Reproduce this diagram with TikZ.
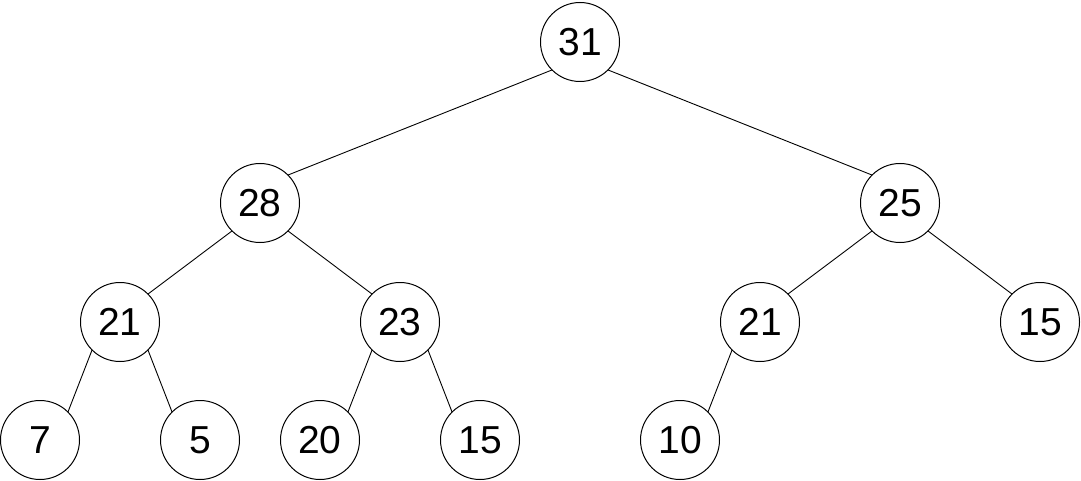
\documentclass[tikz,border=0pt]{standalone}
\usepackage{fontspec}
\setmainfont{Liberation Sans}
\begin{document}
\begin{tikzpicture}[x=1pt,y=-1pt,
  tn/.style={circle,draw,line width=1pt,minimum size=79pt,inner sep=0pt,outer sep=0pt,font=\fontsize{39}{42}\selectfont},
  edge/.style={line width=0.9pt}]
\useasboundingbox (0,0) rectangle (1081,481);
\node[tn] (n31) at (580,42) {31};
\node[tn] (n28) at (260,203) {28};
\node[tn] (n25) at (900,203) {25};
\node[tn] (n21a) at (120,322) {21};
\node[tn] (n23) at (400,322) {23};
\node[tn] (n21b) at (760,322) {21};
\node[tn] (n15a) at (1040,322) {15};
\node[tn] (n7) at (40,440) {7};
\node[tn] (n5) at (200,440) {5};
\node[tn] (n20) at (320,440) {20};
\node[tn] (n15b) at (480,440) {15};
\node[tn] (n10) at (680,440) {10};
\draw[edge] (n31.south west) -- (n28.north east);
\draw[edge] (n31.south east) -- (n25.north west);
\draw[edge] (n28.south west) -- (n21a.north east);
\draw[edge] (n28.south east) -- (n23.north west);
\draw[edge] (n25.south west) -- (n21b.north east);
\draw[edge] (n25.south east) -- (n15a.north west);
\draw[edge] (n21a.south west) -- (n7.north east);
\draw[edge] (n21a.south east) -- (n5.north west);
\draw[edge] (n23.south west) -- (n20.north east);
\draw[edge] (n23.south east) -- (n15b.north west);
\draw[edge] (n21b.south west) -- (n10.north east);
\end{tikzpicture}
\end{document}
